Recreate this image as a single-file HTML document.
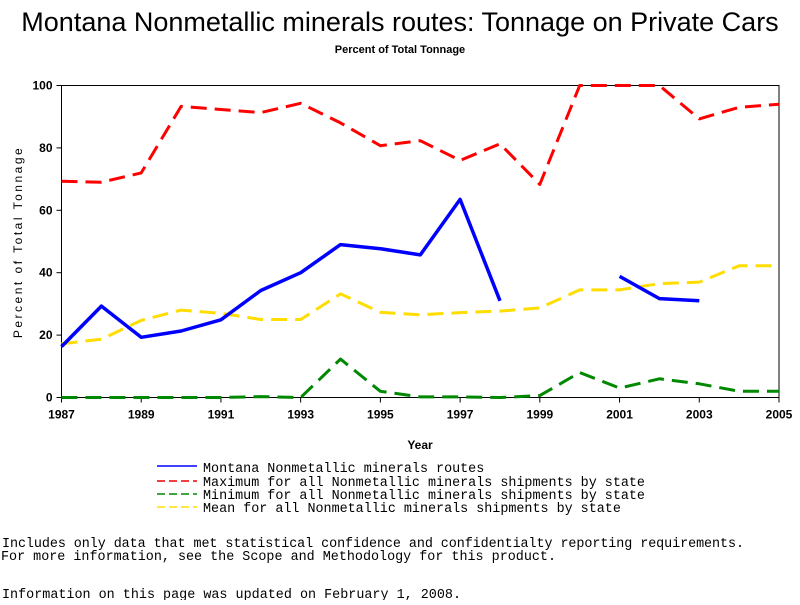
<!DOCTYPE html>
<html><head><meta charset="utf-8"><style>
body{margin:0;background:#fff}
svg text{font-family:"Liberation Sans",sans-serif}
.m{font-family:"Liberation Mono",monospace;font-size:13.4px}
</style></head><body>
<svg width="800" height="600" viewBox="0 0 800 600">
<text x="400" y="31" text-anchor="middle" font-size="27">Montana Nonmetallic minerals routes: Tonnage on Private Cars</text>
<text x="400" y="53" text-anchor="middle" font-size="11" font-weight="bold">Percent of Total Tonnage</text>
<rect x="61.5" y="85.5" width="717.5" height="312" fill="none" stroke="#000" stroke-width="1"/>
<g id="axes"></g>
<g id="series"></g>
<text x="420" y="449" text-anchor="middle" font-size="12" font-weight="bold">Year</text>
<text transform="translate(22,242) rotate(-90)" text-anchor="middle" font-size="12" letter-spacing="2.5">Percent of Total Tonnage</text>
<g>
<line x1="157" y1="466" x2="197" y2="466" stroke="#00f" stroke-width="1.5"/>
<text class="m" x="203" y="472">Montana Nonmetallic minerals routes</text>
<line x1="157" y1="481" x2="197" y2="481" stroke="#e00" stroke-width="1.5" stroke-dasharray="8,4"/>
<text class="m" x="203" y="486">Maximum for all Nonmetallic minerals shipments by state</text>
<line x1="157" y1="494" x2="197" y2="494" stroke="#080" stroke-width="1.5" stroke-dasharray="8,4"/>
<text class="m" x="203" y="499">Minimum for all Nonmetallic minerals shipments by state</text>
<line x1="157" y1="507" x2="197" y2="507" stroke="#fd0" stroke-width="1.5" stroke-dasharray="8,4"/>
<text class="m" x="203" y="512">Mean for all Nonmetallic minerals shipments by state</text>
</g>
<text class="m" x="2" y="547" textLength="742">Includes only data that met statistical confidence and confidentialty reporting requirements.</text>
<text class="m" x="1" y="560" textLength="555">For more information, see the Scope and Methodology for this product.</text>
<text class="m" x="2" y="598" textLength="459">Information on this page was updated on February 1, 2008.</text>
</svg>
<script>
const years=[1987,1988,1989,1990,1991,1992,1993,1994,1995,1996,1997,1998,1999,2000,2001,2002,2003,2004,2005];
const montana=[16.3,29.3,19.3,21.3,24.9,34.3,40,49,47.7,45.7,63.5,31,null,null,38.8,31.7,31,null,null];
const maxVals=[69.3,69,72,93.3,92.3,91.3,94.3,88,80.7,82.3,76,81.3,68.3,100,100,100,89.3,93,94];
const minVals=[0,0,0,0,0,0.3,0,12.3,2,0.2,0.2,0,0.6,8,3,6,4.4,2,2];
const meanVals=[17.2,18.7,24.7,28,27,25,25,33.2,27.3,26.5,27.2,27.7,28.7,34.5,34.5,36.5,37,42.2,42.2];
const xTicks=[1987,1989,1991,1993,1995,1997,1999,2001,2003,2005];
const yTicks=[0,20,40,60,80,100];
const NS="http://www.w3.org/2000/svg";
const X0=61.5,X1=779,Y0=397.5,Y1=85.5;
const xs=v=>X0+(v-1987)/(2005-1987)*(X1-X0);
const ys=v=>Y0-v/100*(Y0-Y1);
const axes=document.getElementById('axes'),ser=document.getElementById('series');
function mk(t,a,p){const e=document.createElementNS(NS,t);for(const k in a)e.setAttribute(k,a[k]);p.appendChild(e);return e;}
xTicks.forEach(t=>{
 const l=mk('line',{x1:xs(t),x2:xs(t),y1:Y0,y2:Y0+5,stroke:'#000'},axes);
 
 
 const tx=mk('text',{x:xs(t),y:Y0+21,'text-anchor':'middle','font-size':12,'font-weight':'bold'},axes);
 tx.textContent=t;
 
 
});
yTicks.forEach(t=>{
 const l=mk('line',{x1:X0-5,x2:X0,y1:ys(t),y2:ys(t),stroke:'#000'},axes);
 
 
 const tx=mk('text',{x:X0-9,y:ys(t)+4,'text-anchor':'end','font-size':12,'font-weight':'bold'},axes);
 tx.textContent=t;
 
 
});
function drawSeries(vals,color,w,dash,name){
 let segs=[],cur=[];
 vals.forEach((v,i)=>{if(v==null){if(cur.length)segs.push(cur);cur=[];}else cur.push(xs(years[i]).toFixed(1)+','+ys(v).toFixed(1));});
 if(cur.length)segs.push(cur);
 segs.forEach(s=>{
  const p=mk('polyline',{points:s.join(' '),fill:'none',stroke:color,'stroke-width':w,'stroke-linejoin':'round'},ser);
  if(dash)p.setAttribute('stroke-dasharray',dash);
  
  
 });
}
drawSeries(maxVals,'#f00',3,'16,8','max-line');
drawSeries(meanVals,'#fd0',3,'16,8','mean-line');
drawSeries(minVals,'#080',3,'16,8','min-line');
drawSeries(montana,'#00f',3.5,null,'montana-line');
</script>
</body></html>
